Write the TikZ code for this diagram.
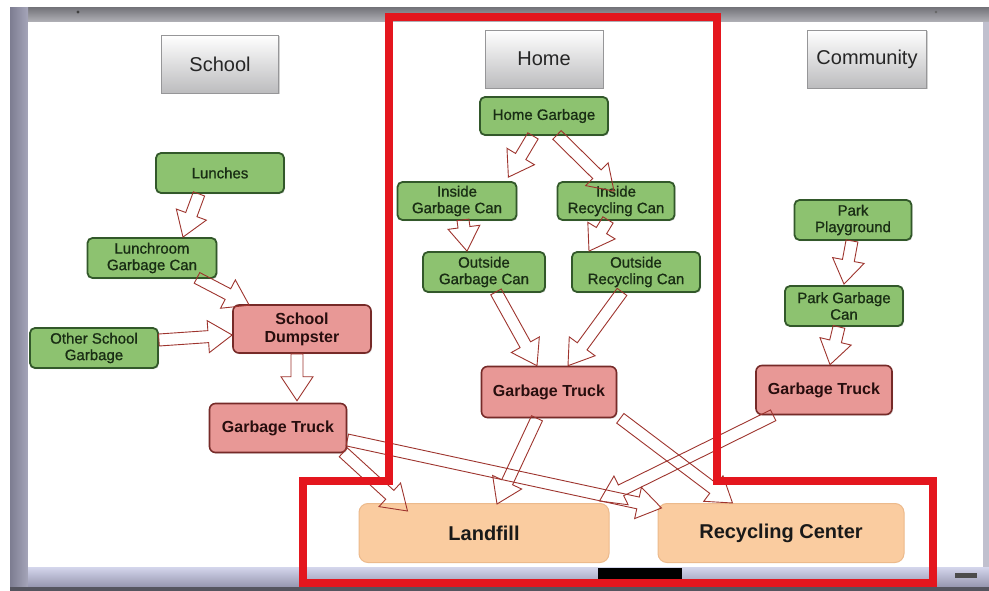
\documentclass[tikz,border=0pt]{standalone}
\usepackage{fontspec}
\setmainfont{Liberation Sans}
\newfontface\greenface{Liberation Sans}[FakeBold=0.9]
\usetikzlibrary{calc,shadows}
\definecolor{gfill}{RGB}{141,194,112}
\definecolor{gborder}{RGB}{50,88,42}
\definecolor{gtext}{RGB}{25,45,20}
\definecolor{pfill}{RGB}{232,152,150}
\definecolor{pborder}{RGB}{118,42,40}
\definecolor{ptext}{RGB}{40,14,14}
\definecolor{ofill}{RGB}{250,204,160}
\definecolor{oborder}{RGB}{236,186,140}
\definecolor{arrowc}{RGB}{158,52,46}
\definecolor{redframe}{RGB}{228,22,30}
\definecolor{hdrbot}{RGB}{188,188,190}
\definecolor{hdrborder}{RGB}{150,150,152}
\definecolor{framegrey}{RGB}{150,150,160}
\definecolor{frametop}{RGB}{118,118,124}
\definecolor{frametopin}{RGB}{178,178,184}
\definecolor{leftdark}{RGB}{125,125,145}
\definecolor{leftlight}{RGB}{165,165,185}
\definecolor{traytop}{RGB}{212,214,236}
\definecolor{traybot}{RGB}{150,150,175}
\definecolor{trayline}{RGB}{85,85,95}
\tikzset{
  hdr/.style={draw=hdrborder, line width=0.8pt, top color=white, bottom color=hdrbot,
    drop shadow={opacity=0.35, shadow xshift=1.2pt, shadow yshift=-1.5pt},
    inner sep=0pt, font=\fontsize{20}{22}\selectfont, text=black!85},
  gbox/.style={draw=gborder, line width=1.8pt, fill=gfill, rounded corners=5pt,
    drop shadow={opacity=0.25, shadow xshift=1pt, shadow yshift=-1.2pt},
    inner sep=0pt, align=center, text=gtext, font=\greenface\fontsize{15}{16.5}\selectfont},
  pbox/.style={draw=pborder, line width=1.6pt, fill=pfill, rounded corners=6pt,
    drop shadow={opacity=0.25, shadow xshift=1pt, shadow yshift=-1.2pt},
    inner sep=0pt, align=center, text=ptext, font=\fontsize{16}{18}\selectfont\bfseries},
  obox/.style={draw=oborder, line width=1pt, fill=ofill, rounded corners=9pt,
    inner sep=0pt, align=center, text=black!90, font=\fontsize{20}{22}\selectfont\bfseries},
  blockarrow/.style={draw=arrowc, line width=0.9pt, line join=miter},
}
\newcommand\barrow[2]{%
  \path (#1) coordinate (ba) (#2) coordinate (bb);
  \coordinate (bc) at ($(bb)!24pt!(ba)$);
  \draw[blockarrow] ($(ba)!6pt!90:(bb)$) -- ($(bc)!6pt!90:(bb)$) -- ($(bc)!16pt!90:(bb)$)
    -- (bb) -- ($(bc)!16pt!-90:(bb)$) -- ($(bc)!6pt!-90:(bb)$) -- ($(ba)!6pt!-90:(bb)$) -- cycle;
}
\begin{document}
\begin{tikzpicture}[x=1pt,y=-1pt]
\useasboundingbox (0,0) rectangle (989,591);
\fill[white] (0,0) rectangle (989,591);
% whiteboard frame
\fill[framegrey] (10,8) rectangle (989,591);
\shade[top color=frametop, bottom color=frametopin] (10,8) rectangle (989,22);
\shade[left color=leftdark, right color=leftlight] (10,8) rectangle (28,588);
\fill[white] (28,22) rectangle (983,567);
\shade[top color=traytop, bottom color=traybot] (28,567) rectangle (989,587);
\fill[trayline] (10,587) rectangle (989,591);
\fill[leftlight!70!white] (983,22) rectangle (989,567);
\fill[black] (598,568) rectangle (682,579);
\fill[black!70] (955,573) rectangle (977,578);
\fill[black!75] (78,12) circle (1.6);
\fill[black!60] (936,12) circle (1.4);

% headers
\node[hdr, minimum width=117pt, minimum height=58pt] (school) at (220,64) {School};
\node[hdr, minimum width=118pt, minimum height=58pt] (home) at (544,59) {Home};
\node[hdr, minimum width=119pt, minimum height=58pt] (community) at (867,59) {Community};

% green nodes
\node[gbox, minimum width=128pt, minimum height=40pt] (lunches) at (220,173) {Lunches};
\node[gbox, minimum width=129pt, minimum height=40pt] (lunchroom) at (152,258) {Lunchroom\\Garbage Can};
\node[gbox, minimum width=128pt, minimum height=40pt] (other) at (94,348) {Other School\\Garbage};
\node[gbox, minimum width=128pt, minimum height=38pt] (homeg) at (544,116) {Home Garbage};
\node[gbox, minimum width=119pt, minimum height=38pt] (insg) at (457,201) {Inside\\Garbage Can};
\node[gbox, minimum width=117pt, minimum height=38pt] (insr) at (616,201) {Inside\\Recycling Can};
\node[gbox, minimum width=122pt, minimum height=40pt] (outg) at (484,272) {Outside\\Garbage Can};
\node[gbox, minimum width=128pt, minimum height=40pt] (outr) at (636,272) {Outside\\Recycling Can};
\node[gbox, minimum width=117pt, minimum height=40pt] (parkp) at (853,220) {Park\\Playground};
\node[gbox, minimum width=118pt, minimum height=40pt] (parkg) at (844,306) {Park Garbage\\Can};

% pink nodes
\node[pbox, minimum width=138pt, minimum height=48pt] (dump) at (302,329) {School\\Dumpster};
\node[pbox, minimum width=137pt, minimum height=49pt] (trS) at (278,428) {Garbage Truck};
\node[pbox, minimum width=135pt, minimum height=51pt] (trH) at (549,392) {Garbage Truck};
\node[pbox, minimum width=136pt, minimum height=49pt] (trC) at (824,390) {Garbage Truck};

% destination nodes
\node[obox, minimum width=250pt, minimum height=59pt] (landfill) at (484,533) {Landfill};
\node[obox, minimum width=246pt, minimum height=59pt] (recyc) at (781,533) {Recycling Center};

% arrows
\barrow{$(lunches.south)+(-21,0)$}{$(lunchroom.north)+(31,0)$}
\barrow{$(lunchroom.south)+(45,-1)$}{$(dump.north west)+(17,1)$}
\barrow{$(other.east)+(0,-8)$}{$(dump.west)+(0,6)$}
\barrow{$(dump.south)+(-5,0)$}{$(trS.north)+(19,-2)$}
\barrow{$(trS.south east)+(-4,-1)$}{$(landfill.north west)+(49,8)$}
\barrow{$(trS.east)+(0,12)$}{$(recyc.north west)+(4,5)$}
\barrow{$(homeg.south)+(-11,0)$}{$(insg.north east)+(-9,-4)$}
\barrow{$(homeg.south)+(13,-1)$}{$(insr.north)+(-2,10)$}
\barrow{$(insg.south)+(6,-1)$}{$(outg.north)+(-17,0)$}
\barrow{$(insr.south)+(-8,-1)$}{$(outr.north)+(-47,0)$}
\barrow{$(outg.south)+(12,-1)$}{$(trH.north)+(-12,0)$}
\barrow{$(outr.south)+(-14,-1)$}{$(trH.north)+(19,0)$}
\barrow{$(trH.south)+(-12,0)$}{$(landfill.north)+(13,1)$}
\barrow{$(trH.south east)+(3,0)$}{$(recyc.north west)+(75,0)$}
\barrow{$(trC.south west)+(18,0)$}{$(landfill.north east)+(-10,-2)$}
\barrow{$(parkp.south)+(-1,0)$}{$(parkg.north)+(0,-1)$}
\barrow{$(parkg.south)+(-5,0)$}{$(trC.north)+(6,0)$}

% red outline
\draw[redframe, line width=8pt, line join=miter]
  (389,17) -- (717,17) -- (717,481) -- (933,481) -- (933,583) -- (303,583) -- (303,481) -- (389,481) -- cycle;
\end{tikzpicture}
\end{document}
